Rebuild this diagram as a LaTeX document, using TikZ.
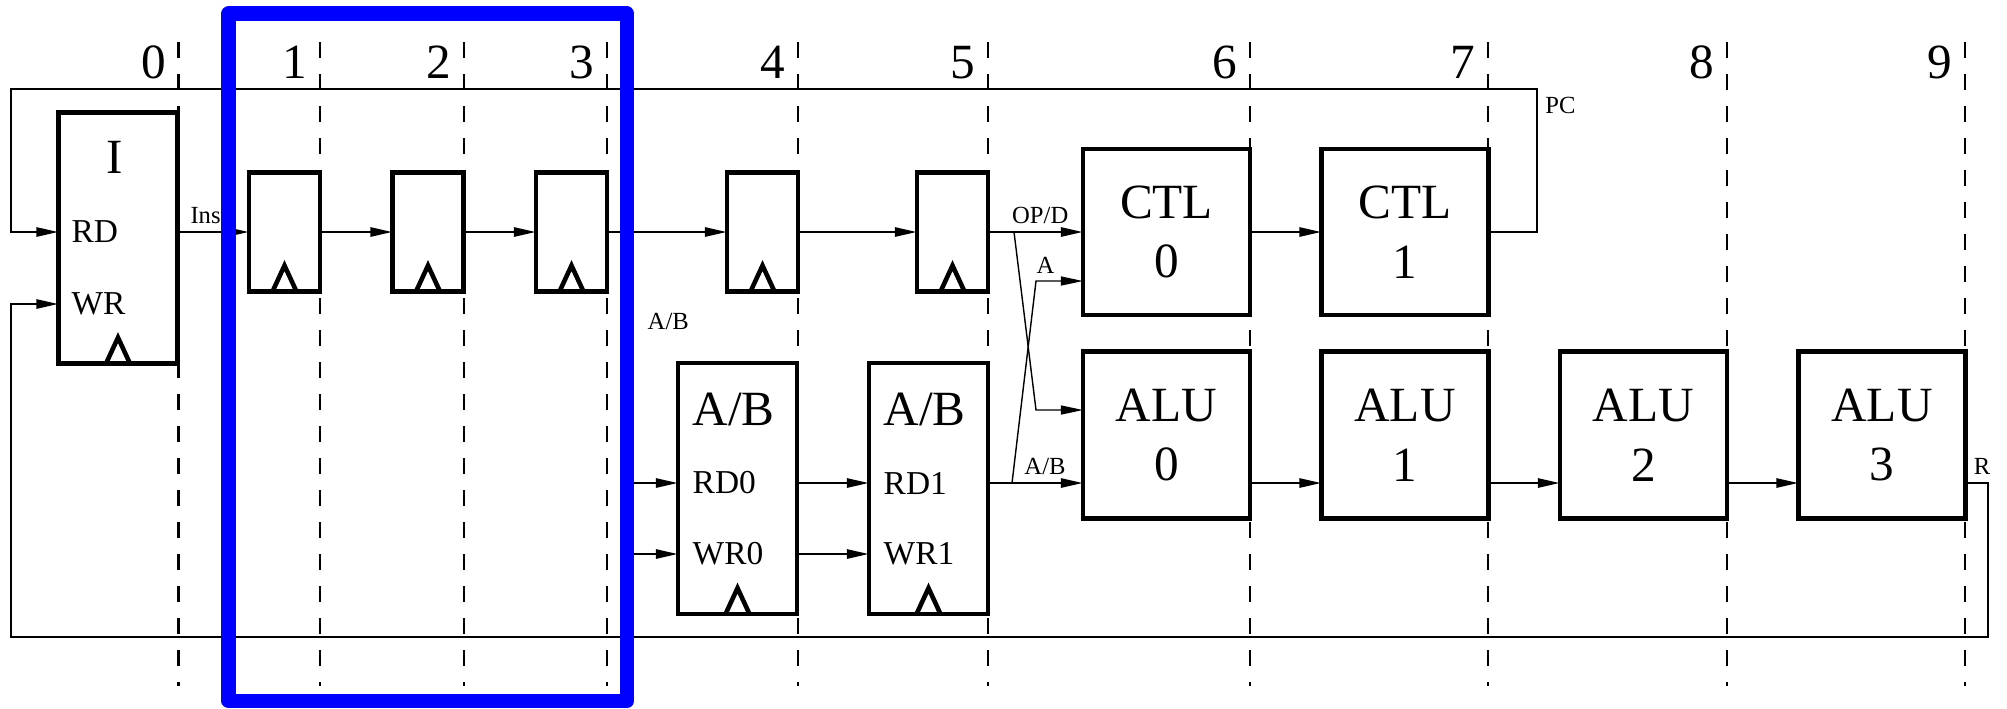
\documentclass[tikz,border=0pt]{standalone}
\usepackage{fontspec}
\setmainfont{Liberation Serif}
\usetikzlibrary{arrows.meta}

\begin{document}
\begin{tikzpicture}[x=0.01cm, y=-0.01cm,
    unit/.style={rectangle, draw, line width=1.3pt, fill=white, inner sep=0pt,
                 outer sep=0pt, align=center, font=\fontsize{14}{17}\selectfont},
    reg/.style={unit, minimum width=0.71cm, minimum height=1.19cm},
    mem/.style={unit, minimum width=1.19cm, minimum height=2.51cm},
    alu/.style={unit, minimum width=1.67cm, minimum height=1.67cm},
    big/.style={inner sep=0pt, font=\fontsize{14}{17}\selectfont},
    port/.style={inner sep=0pt, anchor=west, font=\fontsize{9.5}{11}\selectfont},
    lbl/.style={inner sep=2pt, font=\fontsize{7}{8}\selectfont},
    arr/.style={-{Triangle[length=2.2mm, width=0.9mm]}, line width=0.75pt},
    clk/.style={line width=1.3pt},
    stage/.style={line width=0.75pt, dash pattern=on 4.55pt off 4.55pt},
  ]
  \useasboundingbox (0,0) rectangle (2007,708);

  % stage boundaries
  \foreach \x/\n in {178.5/0, 320/1, 464/2, 607/3, 798/4, 988/5, 1250/6, 1488/7, 1727/8, 1965/9}{
    \draw[stage] (\x,42) -- (\x,686);
    \node[big, anchor=base east] (col\n) at (\x-12,78) {\n};
  }

  % instruction memory
  \node[mem] (imem) at (118,238) {};
  \node[big] (itxt) at (115,157) {I};
  \node[port] (rd) at (71,232) {RD};
  \node[port] (wr) at (71,304) {WR};

  % pipeline registers
  \node[reg] (r1) at (284.5,232) {};
  \node[reg] (r2) at (428,232) {};
  \node[reg] (r3) at (571.5,232) {};
  \node[reg] (r4) at (762.5,232) {};
  \node[reg] (r5) at (952.5,232) {};

  % A/B register files
  \node[mem] (ab0) at (737.5,488.5) {};
  \node[big, anchor=west] (ab0t) at (692,409) {A/B};
  \node[port] (rd0) at (692,483) {RD0};
  \node[port] (wr0) at (692,554) {WR0};
  \node[mem] (ab1) at (928.5,488.5) {};
  \node[big, anchor=west] (ab1t) at (883,409) {A/B};
  \node[port] (rd1) at (883,483) {RD1};
  \node[port] (wr1) at (883,554) {WR1};

  % control and ALU stages
  \node[alu, minimum height=1.66cm] (ctl0) at (1166.5,232) {CTL\\0};
  \node[alu, minimum height=1.66cm] (ctl1) at (1405,232) {CTL\\1};
  \node[alu] (alu0) at (1166.5,435) {ALU\ \\0};
  \node[alu] (alu1) at (1405,435) {ALU\ \\1};
  \node[alu] (alu2) at (1643.5,435) {ALU\ \\2};
  \node[alu] (alu3) at (1882,435) {ALU\ \\3};

  \foreach \b in {imem,r1,r2,r3,r4,r5,ab0,ab1}
    \draw[clk] (\b.south) ++(-12,0) -- ++(12,-26) -- ++(12,26);

  \coordinate (pc) at (1537,89);
  \coordinate (back) at (11,232);
  \coordinate (res) at (1988,637);
  \coordinate (abin) at (620,0);
  \coordinate (opj) at (1014,232);
  \coordinate (opk) at (1036,410);
  \coordinate (abj) at (1012,483);
  \coordinate (abk) at (1036,281);

  % instruction path
  \draw[arr] (imem.east |- r1.west) -- node[lbl, above, pos=0.44] {Inst} (r1.west);
  \foreach \a/\b in {r1/r2, r2/r3, r3/r4, r4/r5}
    \draw[arr] (\a.east) -- (\b.west);
  \draw[arr] (r5.east) -- node[lbl, above, pos=0.55] {OP/D} (ctl0.west);
  \draw[arr] (ctl0.east) -- (ctl1.west);
  \draw[arr] (ctl1.east) -| (pc) node[lbl, below right] {PC} -| (back) -- (imem.west |- rd);

  % operand path
  \node[lbl, anchor=west] (abl) at (640,321) {A/B};
  \draw[arr] (abin |- rd0) -- (ab0.west |- rd0);
  \draw[arr] (abin |- wr0) -- (ab0.west |- wr0);
  \draw[arr] (ab0.east |- rd0) -- (ab1.west |- rd1);
  \draw[arr] (ab0.east |- wr0) -- (ab1.west |- wr1);
  \draw[arr] (ab1.east |- rd1) -- node[lbl, above, pos=0.6] {A/B} (alu0.west |- rd1);
  \draw[arr, line width=0.4pt] (abj) -- (abk) -- node[lbl, above, pos=0.2] {A} (ctl0.west |- abk);
  \draw[arr, line width=0.4pt] (opj) -- (opk) -- (alu0.west |- opk);
  \foreach \a/\b in {alu0/alu1, alu1/alu2, alu2/alu3}
    \draw[arr] (\a.east |- rd1) -- (\b.west |- rd1);
  \draw[arr] (alu3.east |- rd1) node[lbl, above right] {R} -| (res) -| (back |- wr) -- (imem.west |- wr);

  % highlighted stages
  \draw[blue, line width=4pt, line join=round] (228.5,13.5) rectangle (627,701);
\end{tikzpicture}
\end{document}
